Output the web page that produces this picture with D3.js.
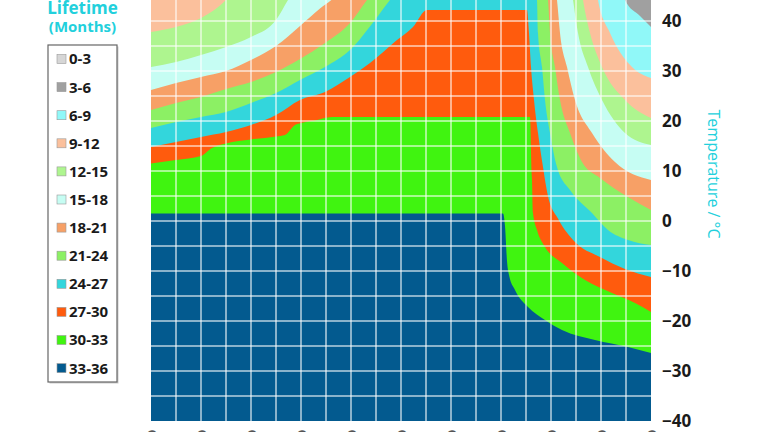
<!DOCTYPE html>
<html>
<head>
<meta charset="utf-8">
<title>Lifetime vs temperature</title>
<script src="https://d3js.org/d3.v7.min.js"></script>
<style>
  body { margin: 0; background: #fff; }
  svg { display: block; font-family: "Open Sans", sans-serif; }
</style>
</head>
<body>
<script>
// lifetime classes in months, longest (bottom of the chart) first
var classes = ["33-36", "30-33", "27-30", "24-27", "21-24", "18-21",
               "15-18", "12-15", "9-12", "6-9", "3-6", "0-3"];
var colors = ["#035a8f", "#40f410", "#ff5b0d", "#33d6dc", "#8cf064", "#f7a066",
              "#c6fdf3", "#aef58f", "#fbc09c", "#90f8f8", "#a0a0a0", "#d6d6d6"];

// upper temperature limit (°C) of each class along the x axis, [x, T]
var b33 = [[0,1.5],[70.4,1.5],[70.8,-1],[71.2,-8],[71.6,-10.8],[72.8,-13.8],[75.4,-17.2],
           [78.8,-19.8],[82.2,-21.8],[88.8,-23.8],[95.4,-25.2],[100,-26.4]];
var b30 = [[0,11.5],[5,12.2],[10,13],[12.2,14.6],[15,15.5],[20,16.3],[25,16.9],[26.8,17.2],
           [28.8,19.2],[30,19.6],[32.8,20.1],[36.2,20.8],[75.8,20.8],[76.1,10],[76.2,8.2],
           [76.4,1.6],[77.2,-1.8],[78.8,-5.2],[82.2,-8.4],[86.8,-11.8],[92.2,-14.4],
           [96.8,-16.4],[100,-18.2]];
var b27 = [[0,14.8],[5,15.8],[10,16.8],[15,17.8],[20,19.2],[25,21.2],[29.8,24.2],[34.8,25.8],
           [39.8,28.8],[43.8,31.6],[49.2,36.2],[52.4,38.8],[55.2,42.2],[75.2,42.2],[75.6,37.6],
           [76,30.8],[76.6,24.2],[77.4,17.6],[78.4,10.8],[79.4,5],[81.4,0.5],[84.8,-4.2],
           [89.8,-7.2],[94.8,-9.6],[100,-11.2]];
var b24 = [[0,18.6],[5,19.8],[10,20.8],[15,21.8],[20,23.6],[25,25.6],[29.8,28.2],[34.8,30.8],
           [39.8,34.2],[44.8,40.2],[47.8,44.2],[51.8,48],[63.8,52],[75.8,49],[77.2,44.2],
           [77.4,37.6],[78.2,30.8],[78.8,24.2],[79.8,17.6],[81.2,10.8],[83.8,6.2],[88.2,1.6],
           [91.4,-1.8],[95.4,-3.8],[100,-4.8]];
var b21 = [[0,22.2],[5,23.6],[10,24.8],[15,26.4],[20,27.8],[25,29.8],[29.8,32.4],[34.8,35.6],
           [39.8,39.6],[43.2,44.2],[47.8,50],[63.8,56],[77.8,52],[79.4,44.2],[79.8,37.6],
           [80.8,30.8],[81.8,24.2],[83.8,17.6],[86.2,11.8],[89.8,8.6],[95.4,4.8],[100,2.2]];
var b18 = [[0,26.2],[5,27.6],[10,28.8],[15,30],[20,32.2],[25,35],[29.8,39],[33.8,42.5],
           [36.4,44.5],[41.8,52],[63.8,60],[79.8,52],[81.2,44.2],[81.8,37.6],[83.2,30.8],
           [84.8,24.2],[88.2,17.6],[92.8,11.8],[100,8.2]];
var b15 = [[0,30.8],[5,31.8],[10,33.2],[15,34.8],[20,36.8],[25,40.2],[27.4,44.2],[33.8,54],
           [63.8,64],[82.8,54],[84.4,44.2],[85.4,37.6],[87.4,30.8],[90.2,24.2],[94.8,17.6],
           [100,15.2]];
var b12 = [[0,37.8],[5,38.8],[10,40.6],[15,44.2],[21.8,54],[63.8,68],[84.8,56],[86.4,44.2],
           [87.8,37.6],[90.2,30.8],[94.8,24.2],[100,20.6]];
var b9  = [[0,46],[9.8,58],[63.8,72],[87.8,56],[89.4,44.2],[91.8,37.6],[96.2,30.8],[100,28.6]];
var b6  = [[0,50],[63.8,76],[92.8,52],[94.8,44.2],[97.8,41],[100,38.8]];
var b3  = [[0,54],[63.8,80],[100,46]];
var limits = [b33, b30, b27, b24, b21, b18, b15, b12, b9, b6, b3];

var tempTicks = [-40, -30, -20, -10, 0, 10, 20, 30, 40];
var xTicks = [0, 10, 20, 30, 40, 50, 60, 70, 80, 90, 100];

var W = 768, H = 432;
var left = 151, right = 651;

var svg = d3.select("body").append("svg")
    .attr("width", W)
    .attr("height", H);

var x = d3.scaleLinear().domain([0, 100]).range([left, right]);
var y = d3.scaleLinear().domain([-40, 50]).range([421, -29]);

svg.append("clipPath").attr("id", "plot")
  .append("rect")
    .attr("x", left).attr("y", y(50))
    .attr("width", right - left).attr("height", y(-40) - y(50));

var plot = svg.append("g").attr("clip-path", "url(#plot)");

// shortest class fills everything, longer classes are painted over it
plot.append("rect")
    .attr("x", left).attr("y", y(50))
    .attr("width", right - left).attr("height", y(-40) - y(50))
    .attr("fill", colors[11]);

var area = d3.area()
    .x(d => x(d[0]))
    .y0(y(-40))
    .y1(d => y(d[1]))
    .curve(d3.curveMonotoneX);

for (var k = limits.length - 1; k >= 0; k--) {
    plot.append("path")
        .attr("d", area(limits[k]))
        .attr("fill", colors[k]);
}

// white grid
var grid = plot.append("g")
    .attr("stroke", "#fff")
    .attr("stroke-opacity", 0.72)
    .attr("stroke-width", 1.5);

grid.selectAll("line.h")
    .data(d3.range(-35, 50, 5))
    .join("line")
    .attr("class", "h")
    .attr("x1", left).attr("x2", right)
    .attr("y1", d => y(d)).attr("y2", d => y(d));

grid.selectAll("line.v")
    .data(d3.range(5, 100, 5))
    .join("line")
    .attr("class", "v")
    .attr("x1", d => x(d)).attr("x2", d => x(d))
    .attr("y1", y(50)).attr("y2", y(-40));

// right temperature axis
var yAxis = svg.append("g")
    .attr("transform", `translate(${right},0)`)
    .call(d3.axisRight(y).tickValues(tempTicks).tickSize(0).tickPadding(11));
yAxis.select(".domain").remove();
yAxis.selectAll("text")
    .attr("font-size", 17)
    .attr("font-weight", 700)
    .attr("font-family", "Open Sans, sans-serif")
    .attr("fill", "#1a1a1a");

svg.append("text")
    .attr("transform", `translate(708,174) rotate(90)`)
    .attr("text-anchor", "middle")
    .attr("font-size", 16)
    .attr("fill", "#22d0dc")
    .text("Temperature / °C");

// bottom axis: rotated labels, only their ends show below the plot
var xAxis = svg.append("g")
    .attr("transform", `translate(0,${y(-40)})`)
    .call(d3.axisBottom(x).tickValues(xTicks).tickSize(0));
xAxis.select(".domain").remove();
xAxis.selectAll("text")
    .attr("y", 0).attr("dy", 0)
    .attr("transform", "translate(4,9) rotate(-90)")
    .attr("text-anchor", "end")
    .attr("font-size", 11)
    .attr("font-weight", 700)
    .attr("font-family", "Open Sans, sans-serif")
    .attr("fill", "#555");

// legend
svg.append("text")
    .attr("x", 82.5).attr("y", 14)
    .attr("text-anchor", "middle")
    .attr("font-size", 17).attr("font-weight", 700)
    .attr("fill", "#22d0dc")
    .text("Lifetime");
svg.append("text")
    .attr("x", 82.5).attr("y", 32)
    .attr("text-anchor", "middle")
    .attr("font-size", 15).attr("font-weight", 700)
    .attr("fill", "#22d0dc")
    .text("(Months)");

svg.append("rect")
    .attr("x", 49.5).attr("y", 46.5)
    .attr("width", 69).attr("height", 337)
    .attr("fill", "#ccc");
svg.append("rect")
    .attr("x", 48).attr("y", 45)
    .attr("width", 69).attr("height", 337)
    .attr("fill", "#fff")
    .attr("stroke", "#666")
    .attr("stroke-width", 1.2);

var items = svg.selectAll("g.item")
    .data(classes.slice().reverse())
    .join("g")
    .attr("class", "item")
    .attr("transform", (d, i) => `translate(57,${59 + i * 28.1})`);

items.append("rect")
    .attr("x", 0).attr("y", -4.5)
    .attr("width", 9).attr("height", 9)
    .attr("fill", (d, i) => colors[11 - i])
    .attr("stroke", "#999")
    .attr("stroke-width", 0.6);

items.append("text")
    .attr("x", 12).attr("y", 0)
    .attr("dy", "0.36em")
    .attr("font-size", 15).attr("font-weight", 700)
    .attr("fill", "#1a1a1a")
    .text(d => d);
</script>
</body>
</html>
